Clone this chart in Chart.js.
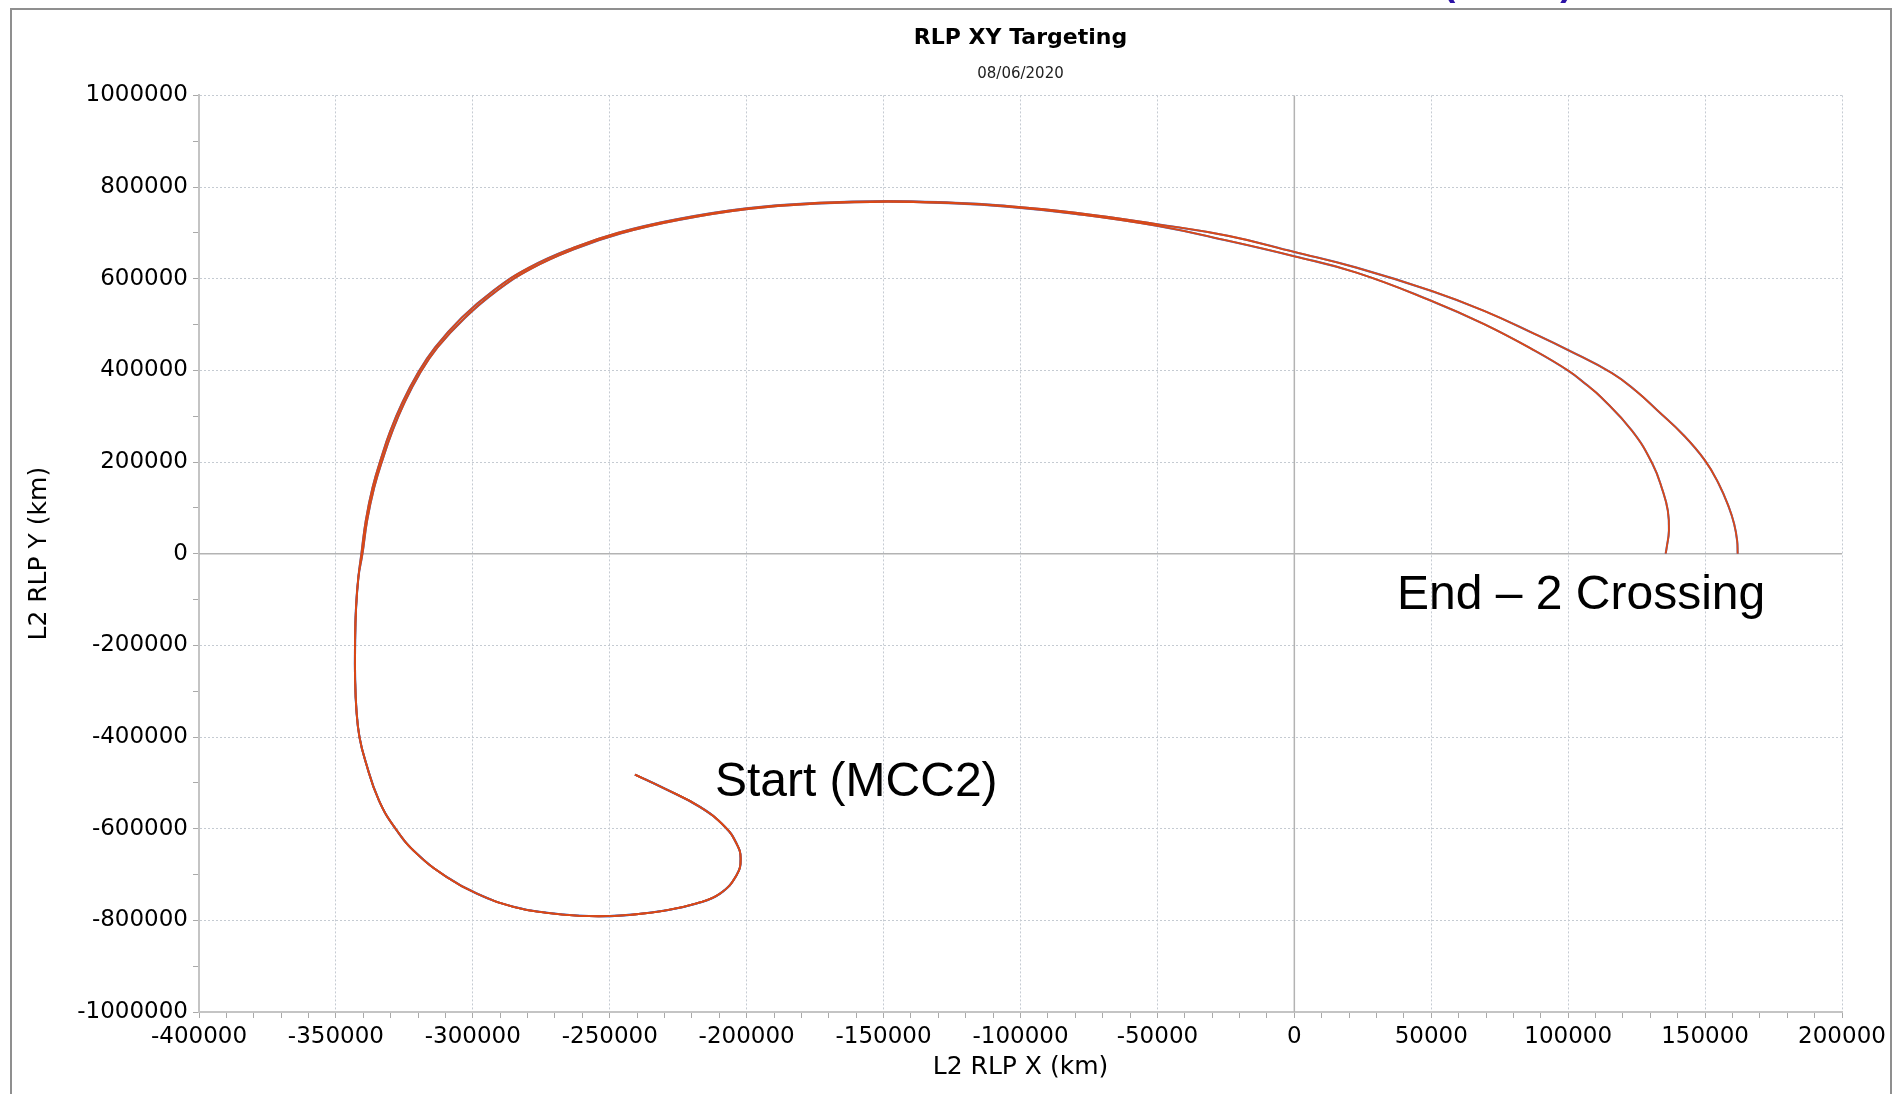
<!DOCTYPE html>
<html>
<head>
<meta charset="utf-8">
<script src="https://cdn.jsdelivr.net/npm/chart.js@4.4.1/dist/chart.umd.min.js"></script>
<style>
html,body{margin:0;padding:0;background:#fff;}
#wrap{position:relative;width:1893px;height:1094px;overflow:hidden;}
#frame{position:absolute;left:10px;top:8px;width:1878px;height:1100px;border:2px solid #8f8f8f;border-bottom:none;}
canvas{position:absolute;left:0;top:0;}
</style>
</head>
<body>
<div id="wrap"><div id="frame"></div><canvas id="chart" width="1893" height="1094"></canvas></div>
<script>

// TRAJECTORY DATA (km)

// shared leg: MCC2 -> first x axis crossing
const legX = [-240800,-230400,-217000,-207900,-203700,-202200,-203700,-209700,-218300,-230400,-242600,-249900,-260900,-273000,-285200,-298600,-309600,-320500,-327800,-334300,-339300,-341400,-342500,-343000,-343000,-342700,-341800];
const legY = [-482000,-511300,-552700,-596200,-632500,-665200,-701500,-741500,-763200,-779200,-788000,-790800,-790100,-783600,-770500,-741500,-705200,-654300,-603500,-538100,-451000,-400100,-342000,-269400,-196800,-124200,-51600];

// trajectory ending on the outer crossing
const outerX = [-340700,-339100,-336600,-333400,-330100,-326000,-320300,-313800,-304000,-292600,-279500,-263200,-246900,-225700,-200100,-173400,-149000,-124500,-107800,-79900,-49900,-23900,0,22700,50100,69300,87900,100100,115900,124800,132700,142000,150000,155000,158700,160600,161700,161900];
const outerY = [0,72300,144900,210200,268400,326600,391900,450000,515300,573500,624200,667800,700500,729700,753600,765800,769500,765800,760100,744000,718700,693200,658400,624200,573400,529900,479100,444000,394500,355000,312000,259500,203100,152300,101300,65100,28800,0];

// trajectory ending on the inner crossing
const innerX = [-340300,-338600,-336000,-332700,-329300,-325200,-319500,-312900,-303000,-291600,-278500,-262300,-246000,-224900,-199400,-172800,-148500,-124000,-107300,-79900,-49900,-23900,0,22700,50100,69300,87900,100100,106200,112100,123300,130800,134500,136400,136800,136000,135600];
const innerY = [0,72300,144900,210200,268400,326600,391900,450000,514000,572000,622500,666000,698800,728000,752000,764200,768000,764300,758500,741500,715100,682400,649000,613300,551600,500900,442700,399100,371000,341000,268400,195900,137700,94100,50600,14200,0];

// labelled ticks
const xTicks = [-400000,-350000,-300000,-250000,-200000,-150000,-100000,-50000,0,50000,100000,150000,200000];
const yTicks = [-1000000,-800000,-600000,-400000,-200000,0,200000,400000,600000,800000,1000000];

const notes = [
{text:"Start (MCC2)", x:-211600, y:-528600},
{text:"End \u2013 2 Crossing", x:37500, y:-121200}
];

function pts(xs, ys){
return xs.map((x,i)=>({x:x, y:ys[i]}));
}

const path1 = pts(legX.concat(outerX), legY.concat(outerY));
const path2 = pts(legX.concat(innerX), legY.concat(innerY));

const BLUE = "#4a72cc";
const RED = "#da4816";

// zero cross lines + text notes
const extras = {
id:"extras",
beforeDatasetsDraw(chart){
const {ctx, chartArea:a, scales:{x,y}} = chart;
const px = x.getPixelForValue(0);
const py = y.getPixelForValue(0);
ctx.save();
ctx.strokeStyle = "#b3b3b3";
ctx.lineWidth = 1.5;
ctx.beginPath();
ctx.moveTo(px, a.top); ctx.lineTo(px, a.bottom);
ctx.moveTo(a.left, py); ctx.lineTo(a.right, py);
ctx.stroke();
ctx.restore();
},
afterDraw(chart){
const {ctx, scales:{x,y}} = chart;
ctx.save();
ctx.fillStyle = "#000";
ctx.font = "48px 'Liberation Sans', Arial, sans-serif";
ctx.textBaseline = "alphabetic";
ctx.textAlign = "left";
notes.forEach(n=>{
ctx.fillText(n.text, x.getPixelForValue(n.x), y.getPixelForValue(n.y));
});
// cut-off slide heading above the frame
ctx.fillStyle = "#2c12a6";
ctx.font = "bold 37px 'Liberation Sans', Arial, sans-serif";
ctx.fillText("(MCC2)", 1443, -5);
ctx.restore();
}
};

const ctx = document.getElementById("chart");

// first dataset is drawn on top, so red goes first
new Chart(ctx,{
type:"scatter",
data:{
datasets:[
{label:"p1", data:path1, borderColor:RED, borderWidth:1.8, showLine:true, pointRadius:0, tension:0.45},
{label:"p2", data:path2, borderColor:RED, borderWidth:1.8, showLine:true, pointRadius:0, tension:0.45},
{label:"p1b", data:path1, borderColor:BLUE, borderWidth:2.1, showLine:true, pointRadius:0, tension:0.45},
{label:"p2b", data:path2, borderColor:BLUE, borderWidth:2.1, showLine:true, pointRadius:0, tension:0.45}
]
},
options:{
responsive:false,
animation:false,
layout:{padding:{left:10, right:51, top:12, bottom:0}},
plugins:{
legend:{display:false},
tooltip:{enabled:false},
title:{display:true, fullSize:false, text:"RLP XY Targeting", color:"#000", font:{family:"DejaVu Sans", size:22, weight:"bold"}, padding:{top:13, bottom:14}},
subtitle:{display:true, fullSize:false, text:"08/06/2020", color:"#222", font:{family:"DejaVu Sans", size:15}, padding:{top:0, bottom:12}}
},
scales:{
x:{
type:"linear", min:-400000, max:200000,
afterFit:s=>{ s.height = 82; },
ticks:{stepSize:10000, autoSkip:false, maxRotation:0, color:"#000", font:{family:"DejaVu Sans", size:23}, padding:5,
callback:v=> xTicks.includes(v) ? String(v) : ""},
grid:{color:c=> (xTicks.includes(c.tick.value) && c.tick.value !== 0) ? "#c5cbd2" : "rgba(0,0,0,0)", tickColor:"#a9a9a9", tickLength:6, lineWidth:1},
border:{color:"#c4c4c4", width:2, dash:[2,2]},
title:{display:true, text:"L2 RLP X (km)", color:"#000", font:{family:"DejaVu Sans", size:25}, padding:{top:0, bottom:12}}
},
y:{
type:"linear", min:-1000000, max:1000000,
afterFit:s=>{ s.width = 189; },
ticks:{stepSize:100000, autoSkip:false, color:"#000", font:{family:"DejaVu Sans", size:23}, padding:5,
callback:v=> yTicks.includes(v) ? String(v) : ""},
grid:{color:c=> (yTicks.includes(c.tick.value) && c.tick.value !== 0) ? "#c5cbd2" : "rgba(0,0,0,0)", tickColor:"#a9a9a9", tickLength:6, lineWidth:1},
border:{color:"#c4c4c4", width:2, dash:[2,2]},
title:{display:true, text:"L2 RLP Y (km)", color:"#000", font:{family:"DejaVu Sans", size:25}, padding:{top:14, bottom:0}}
}
}
},
plugins:[extras]
});

</script>
</body>
</html>
